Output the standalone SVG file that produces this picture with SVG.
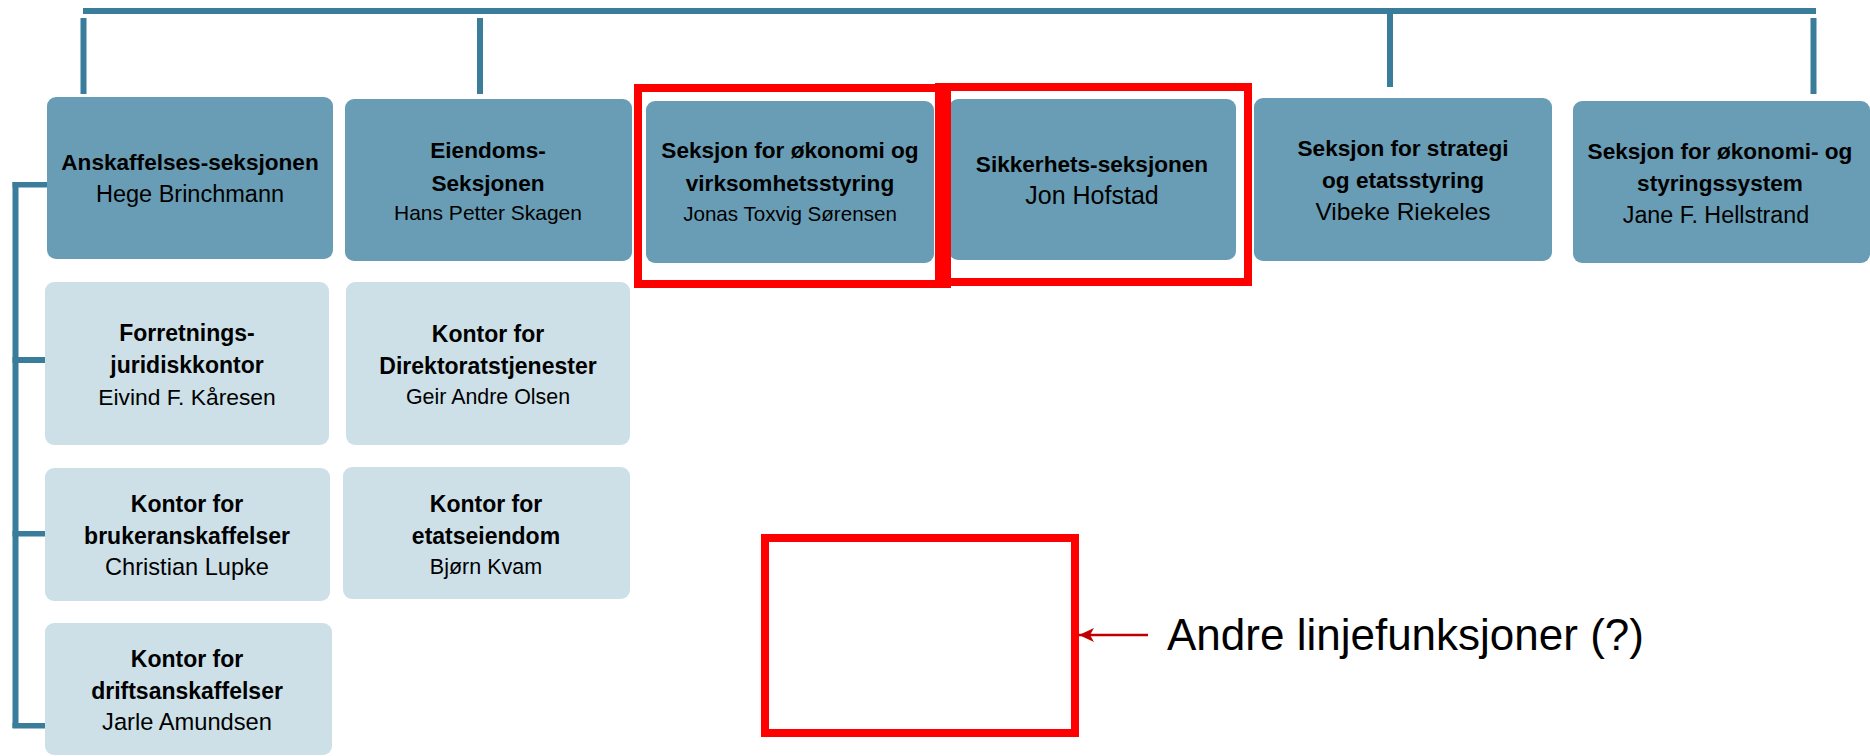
<svg xmlns="http://www.w3.org/2000/svg" width="1870" height="756" viewBox="0 0 1870 756">
<defs>
<style>
.dark{fill:#689db5;}
.light{fill:#cde0e8;}
.conn{fill:#3a7d9b;}
.red{fill:none;stroke:#ff0000;stroke-width:8;}
text{font-family:"Liberation Sans",Arial,sans-serif;fill:#000;text-anchor:middle;}
.b{font-weight:bold;font-size:22.6px;}
.bl{font-weight:bold;font-size:23px;}
.note{font-size:44px;text-anchor:start;}
</style>
<marker id="ah" markerWidth="16" markerHeight="14" refX="15" refY="7" orient="auto" markerUnits="userSpaceOnUse">
<path d="M0,0 L15,7 L0,14 L4,7 Z" fill="#c00000"/>
</marker>
</defs>
<rect width="1870" height="756" fill="#ffffff"/>
<g id="connectors">
<rect class="conn" x="83" y="8" width="1733" height="6"/>
<rect class="conn" x="80.5" y="18" width="6" height="76"/>
<rect class="conn" x="477" y="18" width="6" height="76"/>
<rect class="conn" x="1387" y="13" width="6" height="74"/>
<rect class="conn" x="1810.5" y="18" width="6" height="76"/>
<rect class="conn" x="12.5" y="182" width="6" height="546"/>
<rect class="conn" x="12.5" y="182" width="35" height="5.5"/>
<rect class="conn" x="12.5" y="357" width="33" height="6"/>
<rect class="conn" x="12.5" y="531" width="33" height="5.5"/>
<rect class="conn" x="12.5" y="723" width="33" height="5.5"/>
<line x1="1148" y1="635" x2="1079" y2="635" stroke="#c00000" stroke-width="2.5" marker-end="url(#ah)"/>
</g>
<g id="n-anskaffelse">
<rect class="dark" x="47" y="97" width="286" height="162" rx="9"/>
<text x="190" y="170" class="b">Anskaffelses-seksjonen</text>
<text x="190" y="202" font-size="23.5">Hege Brinchmann</text>
</g>
<g id="n-eiendom">
<rect class="dark" x="345" y="99" width="287" height="162" rx="9"/>
<text x="488" y="158" class="b">Eiendoms-</text>
<text x="488" y="191" class="b">Seksjonen</text>
<text x="488" y="220" font-size="21">Hans Petter Skagen</text>
</g>
<g id="n-okonomi">
<rect class="dark" x="646" y="101" width="288" height="162" rx="9"/>
<text x="790" y="158" class="b">Seksjon for økonomi og</text>
<text x="790" y="191" class="b">virksomhetsstyring</text>
<text x="790" y="221" font-size="20.6">Jonas Toxvig Sørensen</text>
</g>
<g id="n-sikkerhet">
<rect class="dark" x="949" y="99" width="287" height="161" rx="9"/>
<text x="1092" y="172" class="b">Sikkerhets-seksjonen</text>
<text x="1092" y="204" font-size="25">Jon Hofstad</text>
</g>
<g id="n-strategi">
<rect class="dark" x="1254" y="98" width="298" height="163" rx="9"/>
<text x="1403" y="156" class="b">Seksjon for strategi</text>
<text x="1403" y="188" class="b">og etatsstyring</text>
<text x="1403" y="220" font-size="24.5">Vibeke Riekeles</text>
</g>
<g id="n-styringssystem">
<rect class="dark" x="1573" y="101" width="297" height="162" rx="9"/>
<text x="1720" y="159" class="b">Seksjon for økonomi- og</text>
<text x="1720" y="191" class="b">styringssystem</text>
<text x="1716" y="223" font-size="23.3">Jane F. Hellstrand</text>
</g>
<g id="n-forretning">
<rect class="light" x="45" y="282" width="284" height="163" rx="9"/>
<text x="187" y="341" class="bl">Forretnings-</text>
<text x="187" y="373" class="bl">juridiskkontor</text>
<text x="187" y="405" font-size="22.8">Eivind F. Kåresen</text>
</g>
<g id="n-direktorat">
<rect class="light" x="346" y="282" width="284" height="163" rx="9"/>
<text x="488" y="342" class="bl">Kontor for</text>
<text x="488" y="374" class="bl">Direktoratstjenester</text>
<text x="488" y="404" font-size="21.4">Geir Andre Olsen</text>
</g>
<g id="n-bruker">
<rect class="light" x="45" y="468" width="285" height="133" rx="9"/>
<text x="187" y="512" class="bl">Kontor for</text>
<text x="187" y="544" class="bl">brukeranskaffelser</text>
<text x="187" y="575" font-size="23.6">Christian Lupke</text>
</g>
<g id="n-etatseiendom">
<rect class="light" x="343" y="467" width="287" height="132" rx="9"/>
<text x="486" y="512" class="bl">Kontor for</text>
<text x="486" y="544" class="bl">etatseiendom</text>
<text x="486" y="574" font-size="21.5">Bjørn Kvam</text>
</g>
<g id="n-drift">
<rect class="light" x="45" y="623" width="287" height="132" rx="9"/>
<text x="187" y="667" class="bl">Kontor for</text>
<text x="187" y="699" class="bl">driftsanskaffelser</text>
<text x="187" y="730" font-size="23.7">Jarle Amundsen</text>
</g>
<g id="highlights">
<rect class="red" x="638" y="88" width="309" height="196"/>
<rect class="red" x="939" y="87" width="309" height="195"/>
<rect class="red" x="765" y="538" width="310" height="195"/>
</g>
<g id="note">
<text x="1167" y="650" class="note">Andre linjefunksjoner (?)</text>
</g>
</svg>
